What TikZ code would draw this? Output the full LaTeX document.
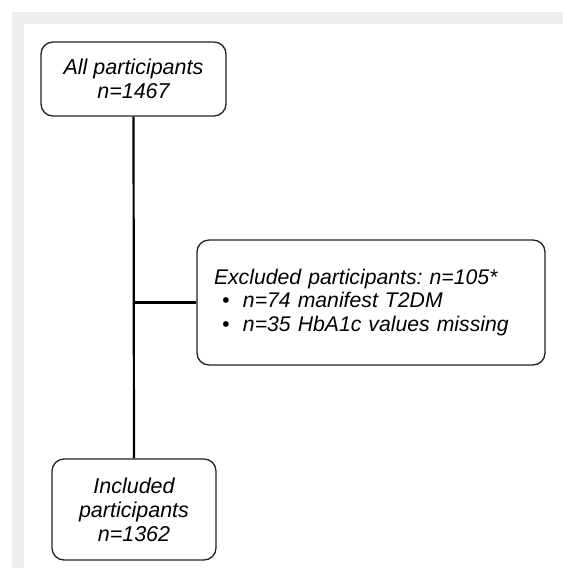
\documentclass[tikz,border=0pt]{standalone}
\usepackage{fontspec}
\setmainfont{Liberation Sans}
\usetikzlibrary{positioning}
\definecolor{framegray}{HTML}{EEEEEE}
\definecolor{boxline}{HTML}{222222}
\tikzstyle{block} = [draw=boxline, line width=1.3pt, rectangle, rounded corners=12pt, align=center, inner sep=0pt, font=\fontsize{21.5}{24}\selectfont\itshape\frenchspacing]
\tikzstyle{link} = [draw=black, line width=2.2pt]
\newcommand{\bulletitem}[1]{\makebox[29pt][l]{\hspace{8pt}\textbullet}#1}

\begin{document}
\begin{tikzpicture}[x=1pt, y=-1pt]
        % Hintergrund mit grauem Rand
        \fill [white] (0,0) rectangle (563,568);
        \fill [framegray] (12,12) rectangle (563,568);
        \fill [white] (24,24) rectangle (563,568);
        \useasboundingbox (0,0) rectangle (563,568);
        % alle Teilnehmer
        \node [block, minimum width=185pt, minimum height=74pt] (all) at (133.5,79) {All participants\\n=1467};
        % ausgeschlossene Teilnehmer
        \node [block, minimum width=348pt, minimum height=125pt, align=left, text width=314pt,
               font=\fontsize{21.2}{23.3}\selectfont\itshape\frenchspacing] (excl) at (371,302.5)
            {Excluded participants: n=105*\\ \bulletitem{n=74 manifest T2DM}\\ \bulletitem{n=35 HbA1c values missing}};
        % eingeschlossene Teilnehmer
        \node [block, minimum width=164pt, minimum height=101pt] (incl) at (134,509.5) {Included\\participants\\n=1362};
        % Verbindungen
        \draw [link] (all.south) -- (incl.north);
        \draw [link] (excl.west) -- (excl.west -| all.south);
    \end{tikzpicture}
\end{document}
